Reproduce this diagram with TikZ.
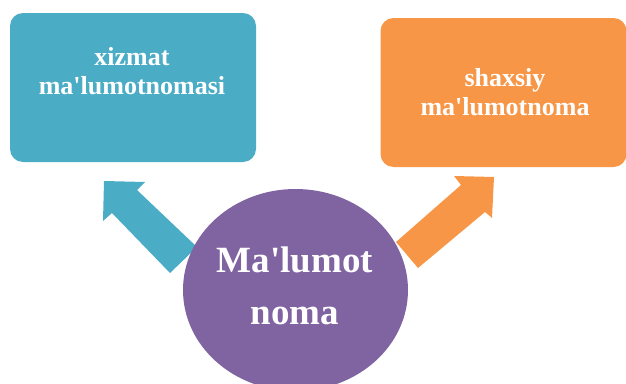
\documentclass[tikz,border=0pt]{standalone}
\usepackage{fontspec}
\newfontfamily\plainserif{Liberation Serif}
\usepackage{tikz}
\usetikzlibrary{shapes.geometric}

\definecolor{tealbox}{HTML}{4BACC6}
\definecolor{orangebox}{HTML}{F79646}
\definecolor{purplecirc}{HTML}{8064A2}

\tikzset{
  infobox/.style={rectangle, rounded corners=13pt, inner sep=0pt,
    minimum width=246pt, minimum height=149pt},
  boxtext/.style={text=white, align=center, inner sep=0pt,
    font=\plainserif\bfseries\fontsize{26}{28.5}\selectfont},
  bigtext/.style={text=white, align=center, inner sep=0pt,
    font=\plainserif\bfseries\fontsize{37}{52}\selectfont}
}

\begin{document}
\begin{tikzpicture}[x=1pt, y=-1pt]
      \useasboundingbox (0,0) rectangle (626,383);
      \node[infobox, fill=tealbox] (xizmat) at (133, 87.5){};
      \node[boxtext] (xizmattext) at (132, 71){xizmat\\ma'lumotnomasi};
      \node[infobox, fill=orangebox] (shaxsiy) at (503.5, 92.5){};
      \node[boxtext] (shaxsiytext) at (505, 92){shaxsiy\\ma'lumotnoma};

      \fill[tealbox] (104,181) -- (145,182) -- (137,190) -- (197,247)
        -- (170,273) -- (112,213) -- (103,221) -- cycle;
      \fill[orangebox] (494,177) -- (492,218) -- (485,212) -- (418,268)
        -- (396,242) -- (461,185) -- (454,176) -- cycle;

      \node[ellipse, fill=purplecirc, inner sep=0pt, minimum width=225pt,
        minimum height=202pt] (malumot) at (295.5, 290){};
      \node[bigtext] (malumottext) at (295, 286){Ma'lumot\\noma};
    \end{tikzpicture}
\end{document}
